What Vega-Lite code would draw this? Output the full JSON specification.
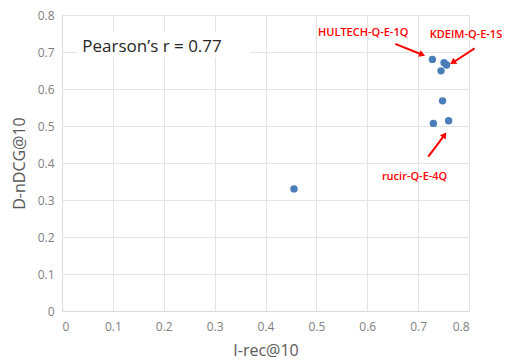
{
  "$schema": "https://vega.github.io/schema/vega-lite/v6.json",
  "autosize": "none",
  "width": 407,
  "height": 296,
  "padding": {"left": 62, "top": 15, "right": 36, "bottom": 49},
  "background": "white",
  "config": {
    "view": {"stroke": null},
    "font": "Open Sans",
    "axis": {
      "gridColor": "#e3e3e3",
      "gridWidth": 1,
      "domainColor": "#d9d9d9",
      "ticks": false,
      "labelOverlap": false,
      "labelColor": "#7f7f7f",
      "labelFontSize": 12,
      "labelFont": "Open Sans",
      "titleColor": "#595959",
      "titleFontSize": 16,
      "titleFontWeight": "normal",
      "titleFont": "Open Sans"
    }
  },
  "datasets": {
    "pts": [
      {"x": 0.728, "y": 0.680},
      {"x": 0.751, "y": 0.671},
      {"x": 0.756, "y": 0.665},
      {"x": 0.745, "y": 0.649},
      {"x": 0.748, "y": 0.568},
      {"x": 0.730, "y": 0.507},
      {"x": 0.760, "y": 0.514},
      {"x": 0.456, "y": 0.330}
    ],
    "labels": [
      {"x": 0.592, "y": 0.751, "text": "HULTECH-Q-E-1Q"},
      {"x": 0.794, "y": 0.746, "text": "KDEIM-Q-E-1S"},
      {"x": 0.693, "y": 0.363, "text": "rucir-Q-E-4Q"}
    ],
    "arrows": [
      {"name": "h", "x": 0.655, "y": 0.722, "x2": 0.706, "y2": 0.694},
      {"name": "k", "x": 0.811, "y": 0.710, "x2": 0.770, "y2": 0.673},
      {"name": "r", "x": 0.720, "y": 0.417, "x2": 0.751, "y2": 0.474}
    ],
    "heads": [
      {"name": "h", "x": 0.708, "y": 0.693},
      {"name": "k", "x": 0.768, "y": 0.672},
      {"name": "r", "x": 0.752, "y": 0.476}
    ],
    "box": [{"x": 0.03, "x2": 0.37, "y": 0.686, "y2": 0.754}],
    "ann": [{"x": 0.177, "y": 0.714, "text": "Pearson’s r = 0.77"}]
  },
  "encoding": {
    "x": {"field": "x", "type": "quantitative", "scale": {"domain": [0, 0.8], "nice": false},
      "axis": {"title": "I-rec@10", "values": [0, 0.1, 0.2, 0.3, 0.4, 0.5, 0.6, 0.7, 0.8], "labelExpr": "datum.value == 0 ? '0' : format(datum.value, '.1f')", "labelPadding": 10, "titlePadding": 10}},
    "y": {"field": "y", "type": "quantitative", "scale": {"domain": [0, 0.8], "nice": false},
      "axis": {"title": "D-nDCG@10", "values": [0, 0.1, 0.2, 0.3, 0.4, 0.5, 0.6, 0.7, 0.8], "labelExpr": "datum.value == 0 ? '0' : format(datum.value, '.1f')", "labelPadding": 8, "titlePadding": 10}}
  },
  "layer": [
    {
      "data": {"name": "pts"},
      "mark": {"type": "point", "filled": true, "size": 55, "color": "#4a7ebb", "opacity": 1}
    },
    {
      "data": {"name": "box"},
      "mark": {"type": "rect", "color": "white"},
      "encoding": {"x2": {"field": "x2"}, "y2": {"field": "y2"}}
    },
    {
      "data": {"name": "ann"},
      "mark": {"type": "text", "fontSize": 17, "color": "#262626", "align": "center", "baseline": "middle"},
      "encoding": {"text": {"field": "text"}}
    },
    {
      "data": {"name": "labels"},
      "mark": {"type": "text", "fontSize": 11, "color": "#ff0000", "align": "center", "baseline": "middle", "fontWeight": 600},
      "encoding": {"text": {"field": "text"}}
    },
    {
      "data": {"name": "arrows"},
      "mark": {"type": "rule", "color": "#ff0000", "strokeWidth": 2},
      "encoding": {"x2": {"field": "x2"}, "y2": {"field": "y2"}}
    },
    {
      "data": {"name": "heads"},
      "transform": [{"filter": "datum.name == 'h'"}],
      "mark": {"type": "point", "shape": "triangle-up", "filled": true, "color": "#ff0000", "size": 50, "angle": 112, "opacity": 1}
    },
    {
      "data": {"name": "heads"},
      "transform": [{"filter": "datum.name == 'k'"}],
      "mark": {"type": "point", "shape": "triangle-up", "filled": true, "color": "#ff0000", "size": 50, "angle": 237, "opacity": 1}
    },
    {
      "data": {"name": "heads"},
      "transform": [{"filter": "datum.name == 'r'"}],
      "mark": {"type": "point", "shape": "triangle-up", "filled": true, "color": "#ff0000", "size": 50, "angle": 36, "opacity": 1}
    }
  ]
}
